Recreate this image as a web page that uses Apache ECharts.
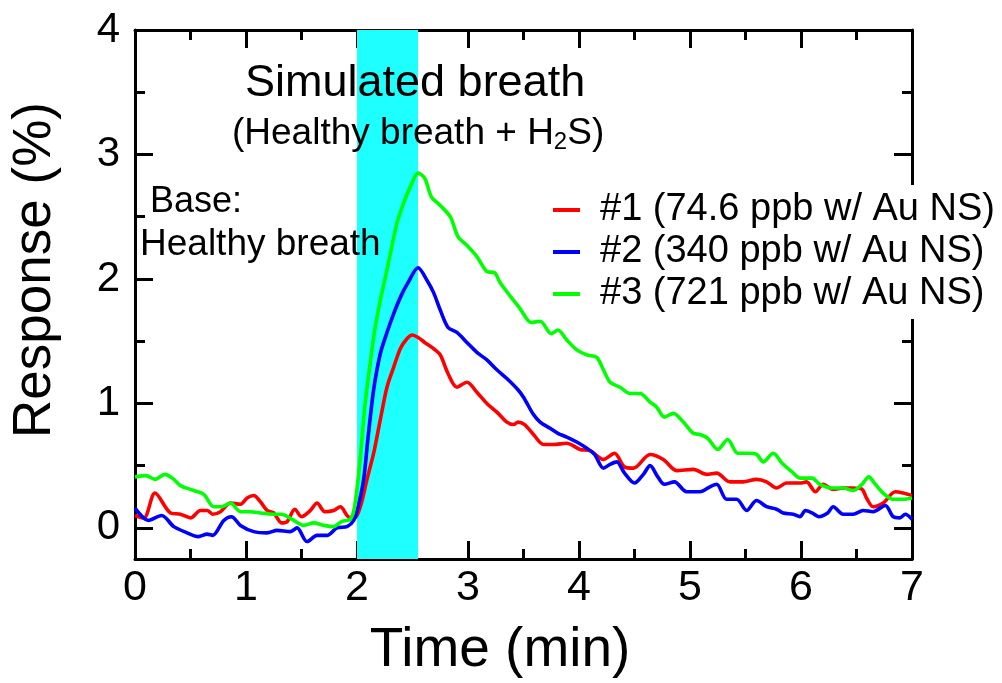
<!DOCTYPE html>
<html>
<head>
<meta charset="utf-8">
<script src="https://cdn.jsdelivr.net/npm/echarts@6/dist/echarts.min.js"></script>
<style>
html,body{margin:0;padding:0;background:#fff;}
#chart{width:1002px;height:683px;}
</style>
</head>
<body>
<div id="chart"></div>
<script>
// ---- data (time in min, response in %) ----
var seriesNames = ['#1 (74.6 ppb w/ Au NS)', '#2 (340 ppb w/ Au NS)', '#3 (721 ppb w/ Au NS)'];
var seriesColors = ['#ff0000', '#0000ff', '#00ff00'];
var exposureWindow = [2.0, 2.55];
var xTicks = [0, 1, 2, 3, 4, 5, 6, 7];
var yMajorTicks = [0, 1, 2, 3, 4];
var yMinorTicks = [0.5, 1.5, 2.5, 3.5];

var red = [[0,0.1],[0.08,0.08],[0.18,0.28],[0.32,0.12],[0.41,0.11],[0.5,0.08],[0.59,0.14],[0.65,0.14],[0.7,0.11],[0.77,0.13],[0.86,0.2],[0.95,0.19],[1.01,0.24],[1.07,0.26],[1.13,0.21],[1.19,0.14],[1.25,0.12],[1.32,0.04],[1.37,0.05],[1.44,0.15],[1.5,0.09],[1.58,0.14],[1.64,0.2],[1.71,0.13],[1.79,0.14],[1.85,0.17],[1.92,0.09],[1.98,0.08],[2.03,0.17],[2.09,0.39],[2.15,0.6],[2.21,0.87],[2.27,1.13],[2.33,1.29],[2.39,1.44],[2.45,1.52],[2.5,1.55],[2.55,1.53],[2.61,1.49],[2.69,1.44],[2.75,1.39],[2.82,1.24],[2.9,1.13],[2.99,1.17],[3.08,1.09],[3.17,1.0],[3.26,0.93],[3.35,0.85],[3.41,0.83],[3.45,0.85],[3.51,0.83],[3.59,0.75],[3.68,0.67],[3.77,0.67],[3.89,0.68],[4.01,0.63],[4.1,0.62],[4.22,0.55],[4.32,0.6],[4.41,0.49],[4.49,0.48],[4.64,0.59],[4.76,0.55],[4.88,0.46],[5.03,0.47],[5.15,0.43],[5.24,0.44],[5.36,0.37],[5.48,0.37],[5.6,0.39],[5.69,0.37],[5.78,0.32],[5.87,0.36],[5.99,0.36],[6.05,0.37],[6.13,0.29],[6.2,0.35],[6.29,0.31],[6.38,0.32],[6.47,0.32],[6.55,0.31],[6.59,0.24],[6.65,0.17],[6.74,0.2],[6.85,0.29],[6.92,0.28],[7.0,0.26]];

var blue = [[0,0.16],[0.12,0.06],[0.24,0.1],[0.35,0.01],[0.47,-0.04],[0.57,-0.07],[0.65,-0.05],[0.7,-0.06],[0.8,0.06],[0.87,0.09],[0.95,0.02],[1.07,-0.03],[1.19,-0.04],[1.28,-0.02],[1.4,-0.03],[1.46,0.0],[1.55,-0.11],[1.64,-0.06],[1.73,-0.06],[1.82,0.0],[1.91,0.01],[1.97,0.06],[2.01,0.17],[2.06,0.39],[2.1,0.73],[2.15,1.11],[2.21,1.4],[2.27,1.57],[2.33,1.72],[2.4,1.87],[2.46,1.97],[2.55,2.09],[2.63,1.99],[2.69,1.89],[2.75,1.75],[2.82,1.61],[2.9,1.57],[2.99,1.49],[3.08,1.41],[3.17,1.35],[3.26,1.27],[3.35,1.2],[3.45,1.11],[3.5,1.05],[3.59,0.91],[3.65,0.85],[3.74,0.8],[3.81,0.76],[3.89,0.73],[3.98,0.69],[4.07,0.64],[4.14,0.59],[4.22,0.48],[4.28,0.51],[4.34,0.53],[4.41,0.44],[4.5,0.36],[4.58,0.43],[4.64,0.5],[4.71,0.41],[4.77,0.35],[4.86,0.37],[4.97,0.29],[5.09,0.29],[5.18,0.33],[5.24,0.35],[5.33,0.23],[5.42,0.23],[5.51,0.14],[5.6,0.22],[5.69,0.17],[5.78,0.15],[5.84,0.12],[5.93,0.11],[5.99,0.09],[6.04,0.14],[6.1,0.12],[6.16,0.09],[6.24,0.12],[6.29,0.17],[6.38,0.11],[6.47,0.11],[6.56,0.14],[6.65,0.13],[6.76,0.18],[6.83,0.09],[6.89,0.08],[6.94,0.11],[7.0,0.07]];

var green = [[0,0.41],[0.1,0.42],[0.18,0.39],[0.27,0.43],[0.35,0.39],[0.41,0.34],[0.53,0.3],[0.62,0.27],[0.71,0.17],[0.78,0.17],[0.86,0.2],[0.95,0.13],[1.04,0.13],[1.13,0.12],[1.25,0.11],[1.32,0.11],[1.43,0.06],[1.52,0.02],[1.61,0.04],[1.7,0.02],[1.79,0.01],[1.86,0.05],[1.94,0.07],[1.98,0.18],[2.03,0.57],[2.07,0.97],[2.12,1.33],[2.16,1.59],[2.21,1.83],[2.25,1.99],[2.3,2.2],[2.36,2.45],[2.42,2.61],[2.49,2.76],[2.55,2.85],[2.61,2.81],[2.67,2.66],[2.75,2.59],[2.84,2.5],[2.91,2.34],[2.99,2.27],[3.08,2.18],[3.17,2.06],[3.24,2.05],[3.29,1.97],[3.47,1.76],[3.57,1.65],[3.65,1.66],[3.75,1.56],[3.81,1.59],[3.89,1.51],[3.98,1.43],[4.07,1.39],[4.16,1.37],[4.22,1.27],[4.28,1.17],[4.37,1.13],[4.46,1.08],[4.55,1.08],[4.64,1.01],[4.7,0.97],[4.77,0.89],[4.85,0.92],[4.94,0.85],[5.03,0.76],[5.09,0.75],[5.16,0.72],[5.25,0.63],[5.34,0.71],[5.43,0.6],[5.52,0.6],[5.6,0.59],[5.66,0.53],[5.75,0.6],[5.83,0.52],[5.92,0.45],[5.99,0.4],[6.1,0.4],[6.17,0.35],[6.29,0.32],[6.38,0.32],[6.47,0.3],[6.55,0.35],[6.61,0.41],[6.67,0.35],[6.74,0.28],[6.83,0.23],[6.92,0.23],[7.0,0.24]];

var seriesData = [red, blue, green];

// ---- chart ----
var FONT = "'Liberation Sans', Arial, sans-serif";
var chart = echarts.init(document.getElementById('chart'), null, {renderer: 'canvas'});

function xAxisDef(pos, showLabel) {
  return {
    type: 'value', position: pos, min: 0, max: 7, interval: 1,
    axisLine: {show: true, onZero: false, lineStyle: {color: '#000', width: 3}},
    axisTick: {show: true, inside: true, length: 18, lineStyle: {color: '#000', width: 3}},
    minorTick: {show: true, splitNumber: 2, length: 10, lineStyle: {color: '#000', width: 3}},
    axisLabel: {show: showLabel, color: '#000', fontSize: 43, fontFamily: FONT, margin: 8},
    splitLine: {show: false}, minorSplitLine: {show: false}
  };
}
function yAxisDef(pos, ticks, len, showLine, showLabel) {
  return {
    type: 'value', position: pos, min: -0.25, max: 4,
    axisLine: {show: showLine, onZero: false, lineStyle: {color: '#000', width: 3}},
    axisTick: {show: true, inside: true, length: len, customValues: ticks, lineStyle: {color: '#000', width: 3}},
    axisLabel: {show: showLabel, customValues: ticks, color: '#000', fontSize: 42, fontFamily: FONT, margin: 15},
    splitLine: {show: false}
  };
}

var series = [{
  type: 'line', name: '_band', data: [], silent: true, z: 1,
  markArea: {silent: true, itemStyle: {color: '#1effff', opacity: 1},
    data: [[{xAxis: exposureWindow[0]}, {xAxis: exposureWindow[1]}]]}
}];
seriesNames.forEach(function (n, i) {
  series.push({
    type: 'line', name: n, data: seriesData[i], xAxisIndex: 0, yAxisIndex: 0,
    showSymbol: false, symbol: 'none', smooth: 0.3, z: 3 + i,
    lineStyle: {color: seriesColors[i], width: 3.6}, itemStyle: {color: seriesColors[i]}
  });
});

chart.setOption({
  animation: false,
  backgroundColor: '#fff',
  grid: {left: 135, right: 90, top: 30, bottom: 124, containLabel: false},
  xAxis: [xAxisDef('bottom', true), xAxisDef('top', false)],
  yAxis: [
    yAxisDef('left', yMajorTicks, 18, true, true),
    yAxisDef('left', yMinorTicks, 10, false, false),
    yAxisDef('right', yMajorTicks, 18, true, false),
    yAxisDef('right', yMinorTicks, 10, false, false)
  ],
  legend: {
    data: seriesNames, orient: 'vertical', left: 540, top: 185,
    padding: [4, 10, 4, 13], itemGap: 0, itemWidth: 27, itemHeight: 4,
    icon: 'rect', backgroundColor: '#fff', z: 10,
    textStyle: {color: '#000', fontSize: 38, fontFamily: FONT, lineHeight: 42, padding: [0, 0, 0, 15]}
  },
  series: series,
  graphic: [
    {type: 'text', z: 100, style: {text: 'Simulated breath', x: 245, y: 84, font: '45px ' + FONT, fill: '#000', textAlign: 'left', textVerticalAlign: 'middle'}},
    {type: 'text', z: 100, style: {
      text: '{a|(Healthy breath + H}{s|2}{a|S)}', x: 232, y: 134, fill: '#000', textAlign: 'left', textVerticalAlign: 'middle',
      rich: {a: {fontSize: 37, fontFamily: FONT, lineHeight: 40, fill: '#000'}, s: {fontSize: 24, fontFamily: FONT, lineHeight: 20, verticalAlign: 'bottom', fill: '#000'}}
    }},
    {type: 'text', z: 100, style: {text: 'Base:', x: 150, y: 202, font: '36px ' + FONT, fill: '#000', textAlign: 'left', textVerticalAlign: 'middle'}},
    {type: 'text', z: 100, style: {text: 'Healthy breath', x: 140, y: 245, font: '37px ' + FONT, fill: '#000', textAlign: 'left', textVerticalAlign: 'middle'}},
    {type: 'text', z: 100, style: {text: 'Time (min)', x: 500, y: 651, font: '55px ' + FONT, fill: '#000', textAlign: 'center', textVerticalAlign: 'middle'}},
    {type: 'text', z: 100, x: 35, y: 270, rotation: Math.PI / 2, style: {text: 'Response (%)', x: 0, y: 0, font: '53px ' + FONT, fill: '#000', textAlign: 'center', textVerticalAlign: 'middle'}}
  ]
});
</script>
</body>
</html>
